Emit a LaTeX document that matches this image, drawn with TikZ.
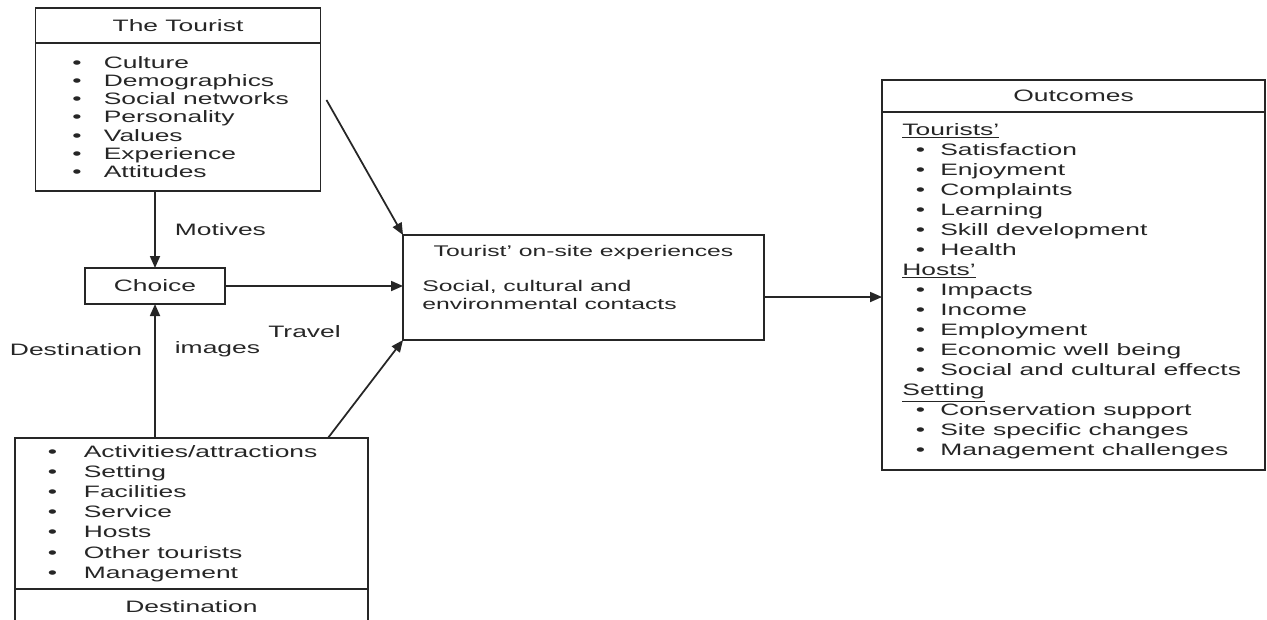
\documentclass[tikz,border=0pt]{standalone}
\usepackage{fontspec}
\setmainfont{Liberation Sans}[FakeStretch=1.6]
\setsansfont{Liberation Sans}[FakeStretch=1.6]
\usepackage{tikz}
\usetikzlibrary{calc,positioning,arrows.meta}

\newcommand{\itm}[2][0.63cm]{\makebox[#1][l]{\textbullet}#2}
\newcommand{\oitm}[1]{\hspace*{0.27cm}\itm[0.49cm]{#1}}

\begin{document}
\begin{tikzpicture}[
    x=0.02cm, y=-0.02cm,
    font=\sffamily\fontsize{9.4}{11}\selectfont,
    every node/.style={text=black!85},
    box/.style={
        draw=black!85,
        line width=1pt,
        outer sep=0pt,
        inner sep=0pt
    },
    lst/.style={
        inner sep=0pt,
        align=left,
        anchor=west
    },
    lbl/.style={inner sep=0pt},
    arr/.style={-{Triangle[length=0.24cm,width=0.2cm]}, line width=1pt, draw=black!85}
]
    \useasboundingbox (0,0) rectangle (1267,619);
    \clip (0,0) rectangle (1267,619);

    %% The tourist
    \node[box, minimum width=5.7cm, minimum height=0.7cm] (thead) at (178,25.5) {The Tourist};
    \node[box, below=0pt of thead, minimum width=5.7cm, minimum height=2.96cm] (tbody) {};
    \node[lst, font=\sffamily\fontsize{9.4}{10.4}\selectfont] (tlist) at ([xshift=0.73cm]tbody.west)
        {\itm{Culture}\\ \itm{Demographics}\\ \itm{Social networks}\\ \itm{Personality}\\
         \itm{Values}\\ \itm{Experience}\\ \itm{Attitudes}};

    %% Choice
    \node[box, minimum width=2.8cm, minimum height=0.72cm] (choice) at (155,286) {Choice};

    %% Destination
    \node[box, minimum width=7.06cm, minimum height=3.02cm] (dbody) at (191.5,513.5) {};
    \node[box, below=0pt of dbody, minimum width=7.06cm, minimum height=0.7cm] (dhead) {Destination};
    \node[lst, font=\sffamily\fontsize{9.4}{11.5}\selectfont] (dlist) at ([xshift=0.65cm]dbody.west)
        {\itm[0.72cm]{Activities/attractions}\\ \itm[0.72cm]{Setting}\\ \itm[0.72cm]{Facilities}\\
         \itm[0.72cm]{Service}\\ \itm[0.72cm]{Hosts}\\ \itm[0.72cm]{Other tourists}\\
         \itm[0.72cm]{Management}};

    %% On-site experiences
    \node[box, minimum width=7.22cm, minimum height=2.1cm] (exp) at (583.5,287.5) {};
    \node[lbl, font=\sffamily\fontsize{8.8}{10.3}\selectfont] (exptitle) at ([yshift=-0.34cm]exp.north)
        {Tourist' on-site experiences};
    \node[lst, font=\sffamily\fontsize{8.8}{10.3}\selectfont] (expbody) at ([xshift=0.38cm,yshift=-0.15cm]exp.west)
        {Social, cultural and\\environmental contacts};

    %% Outcomes
    \node[box, minimum width=7.66cm, minimum height=0.64cm] (ohead) at (1073.5,96) {Outcomes};
    \node[box, below=0pt of ohead, minimum width=7.66cm, minimum height=7.16cm] (obody) {};
    \node[lst, font=\sffamily\fontsize{9.4}{11.4}\selectfont] (olist) at ([xshift=0.4cm]obody.west)
        {\underline{Tourists'}\\ \oitm{Satisfaction}\\ \oitm{Enjoyment}\\ \oitm{Complaints}\\
         \oitm{Learning}\\ \oitm{Skill development}\\ \oitm{Health}\\
         \underline{Hosts'}\\ \oitm{Impacts}\\ \oitm{Income}\\ \oitm{Employment}\\
         \oitm{Economic well being}\\ \oitm{Social and cultural effects}\\
         \underline{Setting}\\ \oitm{Conservation support}\\ \oitm{Site specific changes}\\
         \oitm{Management challenges}};

    %% Arrows
    \coordinate (tstart) at ($(tbody.east)+(6,-17)$);
    \coordinate (dstart) at ($(dbody.north east)+(-40,0)$);
    \coordinate (eo) at ([yshift=-0.19cm]exp.east);
    \draw[arr] (tbody.south -| choice) -- node[lbl, right=0.38cm] {Motives} (choice.north);
    \draw[arr] (dbody.north -| choice) --
        node[lbl, pos=0.66, left=0.24cm] (destlbl) {Destination}
        node[lbl, pos=0.66, right=0.38cm] (imglbl) {images} (choice.south);
    \node[lbl, anchor=base west] (travel) at ([xshift=0.14cm,yshift=0.32cm]imglbl.base east) {Travel};
    \draw[arr] (tstart) -- (exp.north west);
    \draw[arr] (dstart) -- (exp.south west);
    \draw[arr] (choice.east) -- (choice.east -| exp.west);
    \draw[arr] (eo) -- (eo -| obody.west);
\end{tikzpicture}
\end{document}
